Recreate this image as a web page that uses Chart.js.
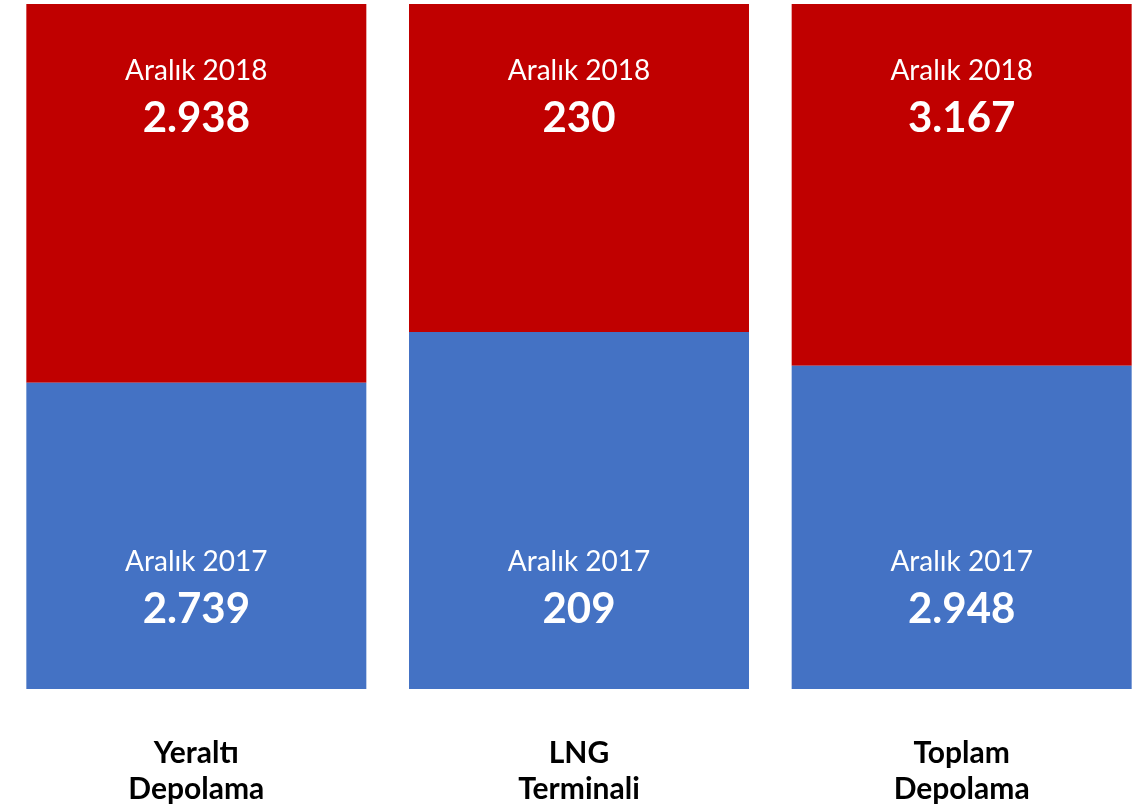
<!DOCTYPE html>
<html>
<head>
<meta charset="utf-8">
<script src="https://cdn.jsdelivr.net/npm/chart.js@4/dist/chart.umd.min.js"></script>
<style>
  html, body { margin: 0; padding: 0; background: #fff; overflow: hidden; }
  canvas { display: block; }
</style>
</head>
<body>
<canvas id="myChart" width="1153" height="806"></canvas>
<script>
// categories (two-line labels under the bars)
var categories = [["Yeraltı", "Depolama"], ["LNG", "Terminali"], ["Toplam", "Depolama"]];
var seriesNames = ["Aralık 2017", "Aralık 2018"];

// values printed inside the bars
var values2017 = [2739, 209, 2948];
var values2018 = [2938, 230, 3167];

// share of each bar taken by each segment (%)
var share2017 = [44.7, 52.1, 47.2];
var share2018 = [55.3, 47.9, 52.8];

var blue = "#4472C4";
var red = "#C00000";

function fmt(v) {
  // Turkish thousands separator
  return String(v).replace(/\B(?=(\d{3})+(?!\d))/g, ".");
}

// draws the year + value text inside each segment
var insideLabels = {
  id: "insideLabels",
  afterDatasetsDraw(chart) {
    var ctx = chart.ctx;
    var low = chart.getDatasetMeta(0).data;
    var high = chart.getDatasetMeta(1).data;
    ctx.save();
    ctx.fillStyle = "#fff";
    ctx.textAlign = "center";
    ctx.textBaseline = "alphabetic";
    for (var i = 0; i < categories.length; i++) {
      var top = high[i].y;
      var bottom = low[i].base;
      var x = low[i].x;

      ctx.font = "28px Lato";
      ctx.fillText(seriesNames[1], x, top + 76);
      ctx.font = "bold 42px Lato";
      ctx.fillText(fmt(values2018[i]), x, top + 128);

      ctx.font = "28px Lato";
      ctx.fillText(seriesNames[0], x, bottom - 118);
      ctx.font = "bold 42px Lato";
      ctx.fillText(fmt(values2017[i]), x, bottom - 66);
    }
    ctx.restore();
  }
};

var ctx = document.getElementById("myChart").getContext("2d");

var chart = new Chart(ctx, {
  type: "bar",
  data: {
    labels: categories,
    datasets: [
      {
        label: seriesNames[0],
        data: share2017,
        backgroundColor: blue,
        borderWidth: 0,
        barPercentage: 1,
        categoryPercentage: 0.8885
      },
      {
        label: seriesNames[1],
        data: share2018,
        backgroundColor: red,
        borderWidth: 0,
        barPercentage: 1,
        categoryPercentage: 0.8885
      }
    ]
  },
  options: {
    responsive: false,
    animation: false,
    layout: { padding: { left: 5, right: 0, top: 4, bottom: 0 } },
    plugins: {
      legend: { display: false },
      tooltip: { enabled: false }
    },
    scales: {
      x: {
        stacked: true,
        grid: { display: false, drawTicks: false },
        border: { display: false },
        ticks: {
          color: "#000",
          padding: 46,
          maxRotation: 0,
          font: { family: "Lato", size: 30, weight: "bold", lineHeight: "36px" }
        },
        afterFit: function (axis) { axis.height = 117; }
      },
      y: {
        stacked: true,
        display: false,
        min: 0,
        max: 100
      }
    }
  },
  plugins: [insideLabels]
});
</script>
</body>
</html>
